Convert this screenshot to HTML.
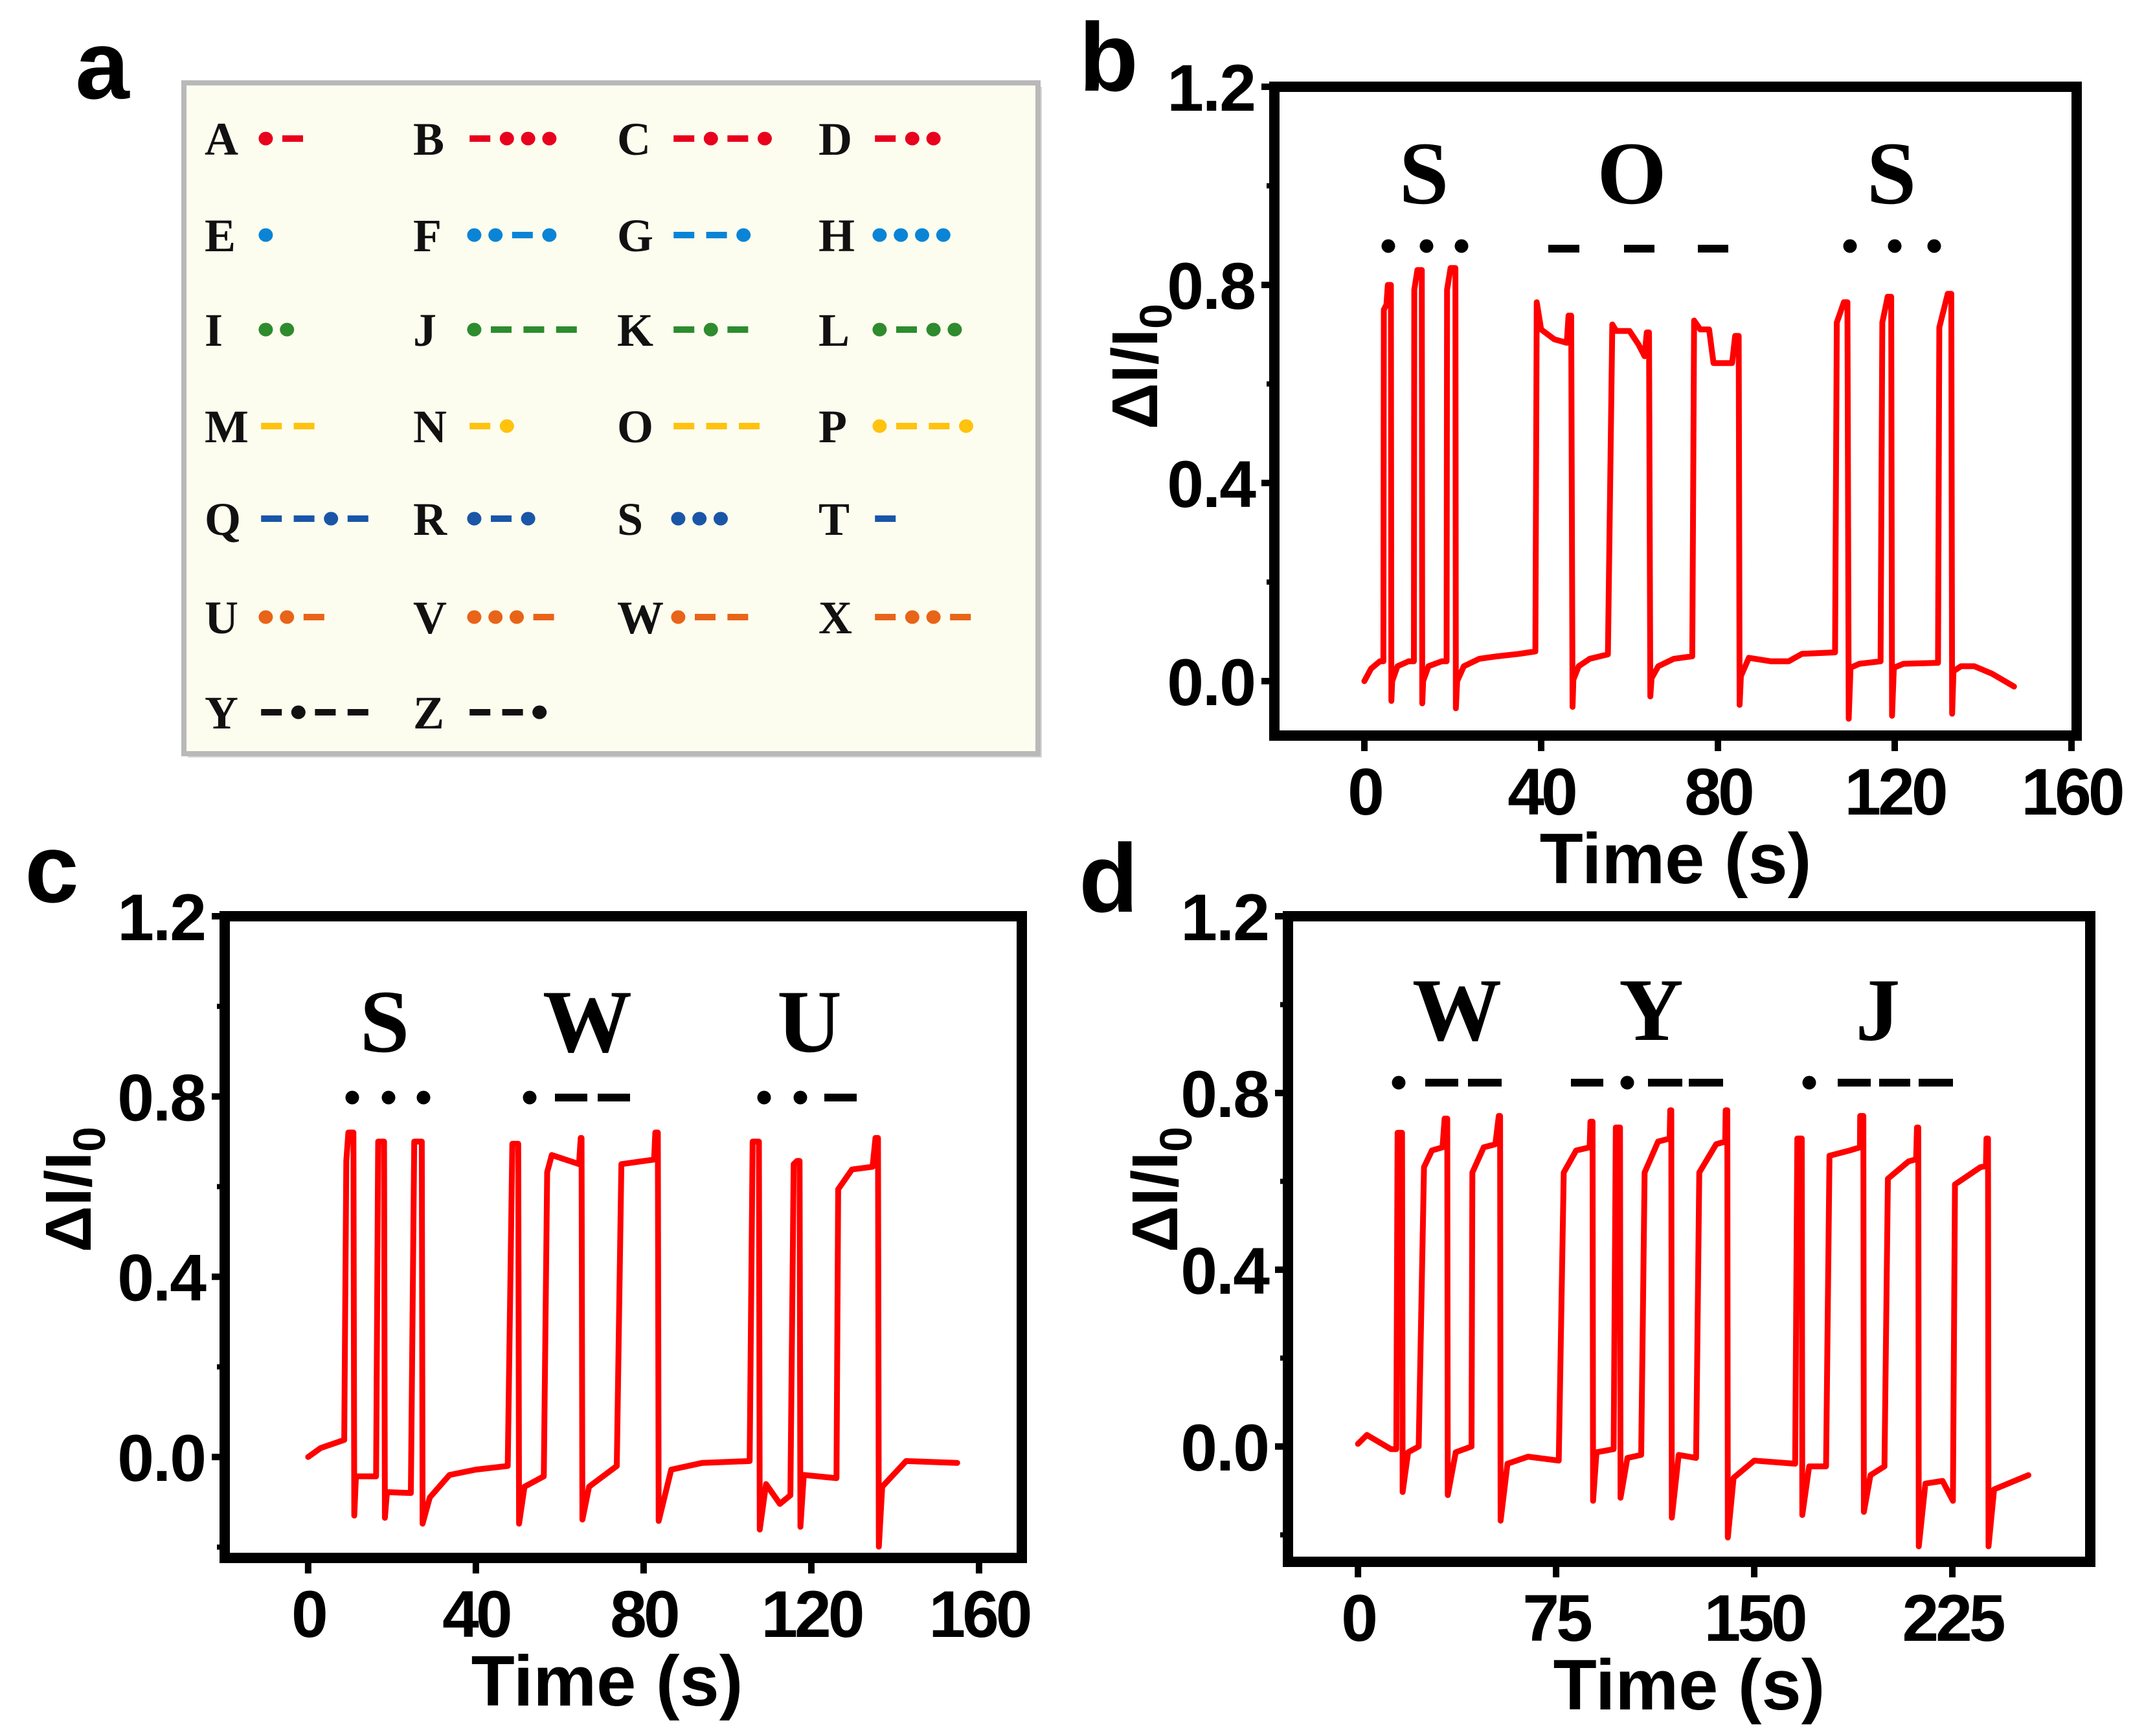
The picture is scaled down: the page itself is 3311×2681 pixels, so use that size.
<!DOCTYPE html>
<html><head><meta charset="utf-8"><style>
html,body{margin:0;padding:0;background:#fff;}
svg{display:block;}
</style></head><body>
<svg id="fig" width="3311" height="2681" viewBox="0 0 3311 2681" xmlns="http://www.w3.org/2000/svg">
<rect x="0" y="0" width="3311" height="2681" fill="#fff"/>
<g id="panelA"></g>
<g id="panelB"></g>
<g id="panelC"></g>
<g id="panelD"></g>
<g id="labels"></g>
</svg>
<script>
// ---------- Panel a data ----------
const morseLetters = ["A","B","C","D","E","F","G","H","I","J","K","L","M","N","O","P","Q","R","S","T","U","V","W","X","Y","Z"];
const morseCodes = [".-","-...","-.-.","-..",".","..-.","--.","....","..",".---","-.-",".-..","--","-.","---",".--.","--.-",".-.","...","-","..-","...-",".--","-..-","-.--","--."];
const rowColors = ["#e8001c","#0a84d6","#2e8b2e","#ffc20e","#1a56a8","#e86418","#111111"];

// ---------- Panel b data (Time s, ΔI/I0) ----------
const timesB = [
 0,1.5,3.5,4.3,
 4.4,5.0,5.3,6.0,6.1,6.3,7.5,10,11.2,
 11.3,12,13,13.1,13.3,14.5,17.5,18.6,
 18.7,19.5,20.6,20.7,21,22.5,26,30,35,38.7,
 39,40,43,45.8,46.2,46.8,47.1,47.3,48.5,51,55.1,
 56.1,57,60,62,63.4,63.9,64.4,64.7,65,66.5,70,74.2,
 74.6,76,78,79,83.2,83.9,84.7,84.9,85.2,87,92,96,99,106.5,
 106.9,108.5,109.3,109.6,110,112,116.8,
 117.2,118.4,119.2,119.4,119.8,122,129.8,
 130.1,132,132.8,133,133.3,135,138,142,147];
const valuesB = [
 0,0.025,0.04,0.04,
 0.75,0.76,0.80,0.80,-0.04,0.0,0.03,0.04,0.04,
 0.79,0.83,0.83,-0.045,0.0,0.03,0.04,0.04,
 0.79,0.834,0.834,-0.055,0.0,0.03,0.045,0.05,0.055,0.06,
 0.765,0.71,0.69,0.683,0.738,0.738,-0.052,0.003,0.03,0.045,0.054,
 0.72,0.707,0.707,0.68,0.656,0.704,0.704,-0.031,0.006,0.03,0.045,0.05,
 0.728,0.71,0.71,0.642,0.642,0.697,0.697,-0.048,0.01,0.047,0.04,0.04,0.055,0.058,
 0.724,0.765,0.765,-0.076,0.027,0.035,0.04,
 0.724,0.776,0.776,-0.07,0.027,0.035,0.037,
 0.714,0.782,0.782,-0.066,0.02,0.03,0.03,0.015,-0.011];

// ---------- Panel c data ----------
const timesC = [
 0,3,8.6,
 9.1,9.6,10.8,11,11.4,16.2,
 16.7,18.1,18.3,18.8,24.5,
 25.3,27.1,27.3,29,33.7,40,47.6,
 48.7,50.1,50.3,51.6,56.2,
 57,58.1,64.6,65,65.2,65.4,67,73.6,
 74.7,82.5,82.8,83.4,83.6,86.6,94,105.3,
 106,107.5,107.7,109.2,112.5,115,
 115.8,116.6,117.2,117.4,118.2,126,
 126.4,129.7,134.6,135.3,135.9,136.1,136.9,142.6,154.8];
const valuesC = [
 0,0.02,0.038,
 0.657,0.72,0.72,-0.13,-0.043,-0.043,
 0.7,0.7,-0.135,-0.078,-0.08,
 0.7,0.7,-0.148,-0.09,-0.04,-0.028,-0.02,
 0.695,0.695,-0.148,-0.066,-0.043,
 0.632,0.67,0.65,0.708,0.708,-0.139,-0.066,-0.02,
 0.65,0.66,0.72,0.72,-0.142,-0.028,-0.013,-0.009,
 0.7,0.7,-0.161,-0.06,-0.104,-0.085,
 0.65,0.657,0.657,-0.155,-0.04,-0.047,
 0.594,0.638,0.644,0.708,0.708,-0.199,-0.066,-0.009,-0.013];

// ---------- Panel d data ----------
const timesD = [
 0,3.4,12.5,14.5,
 15,16.7,16.9,19,23,
 25,28,32,32.8,33.8,34,37,43,
 43.3,47.6,52,53.3,53.8,54,56.6,64.4,76,
 77.9,82.6,87.7,88,88.8,89,90.3,96.8,
 97.6,99.2,99.4,102,107.2,
 108.5,113.6,118,118.2,118.6,118.8,121.4,128,
 129.2,135.6,139,139.2,139.8,140,142.2,150,165.5,
 166.3,168,168.2,170.8,177.2,
 178.5,186.2,190,190.1,191.3,191.5,194,199.3,
 200.6,208.4,211.3,211.6,212.1,212.3,214.8,221.3,225.2,
 226,235.6,237.7,237.9,238.5,238.7,240.8,253.8];
const valuesD = [
 0.006,0.026,-0.006,-0.006,
 0.71,0.71,-0.103,-0.013,0,
 0.632,0.67,0.677,0.742,0.742,-0.11,-0.013,0,
 0.62,0.677,0.684,0.748,0.748,-0.168,-0.039,-0.023,-0.032,
 0.62,0.67,0.677,0.735,0.735,-0.123,-0.013,-0.006,
 0.722,0.722,-0.116,-0.026,-0.019,
 0.62,0.69,0.697,0.761,0.761,-0.161,-0.019,-0.026,
 0.62,0.684,0.69,0.761,0.761,-0.206,-0.071,-0.032,-0.039,
 0.697,0.697,-0.155,-0.045,-0.045,
 0.658,0.67,0.677,0.748,0.748,-0.148,-0.065,-0.045,
 0.606,0.645,0.65,0.722,0.722,-0.226,-0.084,-0.078,-0.123,
 0.593,0.632,0.635,0.697,0.697,-0.226,-0.097,-0.065];

const xTicksBC = [0,40,80,120,160];
const xTicksD = [0,75,150,225];
const yTicks = [0,0.4,0.8,1.2];
const yTickLabels = ["0.0","0.4","0.8","1.2"];
const yMinorTicks = [-0.2,0.2,0.6,1.0];

const NS = "http://www.w3.org/2000/svg";
function mk(tag, attrs, parent){
  const e = document.createElementNS(NS, tag);
  for (const k in attrs) e.setAttribute(k, attrs[k]);
  if (parent) parent.appendChild(e);
  return e;
}

// ---------- Panel a ----------
(function(){
  const g = document.getElementById('panelA');
  mk('rect',{x:290,y:134,width:1319,height:1036,fill:'#d8d8d8'},g);
  const box = mk('rect',{x:284,y:128,width:1319,height:1036,fill:'#fcfdee',stroke:'#b9b9b9','stroke-width':8},g);
  
  
  const colX = [316,638,953,1264];
  const rowY = [214,363,509,658,801,953,1100];
  morseLetters.forEach((L,i)=>{
    const r = Math.floor(i/4), c = i%4;
    const x = colX[c], y = rowY[r];
    const t = mk('text',{x:x,y:y+25,'font-family':'"Liberation Serif", serif','font-weight':'bold','font-size':72,fill:'#111'},g);
    t.textContent = L;
    
    
    let cx = x + 78;
    const col = rowColors[r];
    for (const ch of morseCodes[i]) {
      if (ch === '.') {
        cx += 5.4;
        const d = mk('ellipse',{cx:cx+11,cy:y,rx:11,ry:10.5,fill:col},g);
        
        
        cx += 22 + 5.4;
      } else {
        cx += 9.2;
        const d = mk('rect',{x:cx,y:y-5,width:32,height:10,fill:col},g);
        
        
        cx += 32 + 9.2;
      }
    }
  });
})();

// ---------- chart builder ----------
function buildChart(gid, cfg, times, values, xTicks){
  const g = document.getElementById(gid);
  const sx = t => cfg.x0 + (t - cfg.xmin)/(cfg.xmax - cfg.xmin)*(cfg.x1 - cfg.x0);
  const sy = v => cfg.y1 - (v - cfg.ymin)/(cfg.ymax - cfg.ymin)*(cfg.y1 - cfg.y0);
  let d = '';
  for (let i=0;i<times.length;i++) d += (i?'L':'M') + sx(times[i]).toFixed(1) + ' ' + sy(values[i]).toFixed(1) + ' ';
  const p = mk('path',{d:d,fill:'none',stroke:'#ff0000','stroke-width':9,'stroke-linejoin':'round','stroke-linecap':'round'},g);
  
  
  const fr = mk('rect',{x:cfg.x0,y:cfg.y0,width:cfg.x1-cfg.x0,height:cfg.y1-cfg.y0,fill:'none',stroke:'#000','stroke-width':16},g);
  
  
  xTicks.forEach(t=>{
    const x = sx(t);
    const tk = mk('line',{x1:x,y1:cfg.y1,x2:x,y2:cfg.y1+24,stroke:'#000','stroke-width':10},g);
    
    
    const lb = mk('text',{x:x,y:cfg.y1+122,'text-anchor':'middle','font-family':'"Liberation Sans", sans-serif','font-weight':'bold','font-size':102,'letter-spacing':-5,fill:'#000'},g);
    lb.textContent = String(t);
    
    
  });
  yTicks.forEach((v,i)=>{
    const y = sy(v);
    const tk = mk('line',{x1:cfg.x0-20,y1:y,x2:cfg.x0,y2:y,stroke:'#000','stroke-width':10},g);
    
    
    const lb = mk('text',{x:cfg.x0-30,y:y+37,'text-anchor':'end','font-family':'"Liberation Sans", sans-serif','font-weight':'bold','font-size':102,'letter-spacing':-2,fill:'#000'},g);
    lb.textContent = yTickLabels[i];
    
    
  });
  yMinorTicks.forEach(v=>{
    if (v < cfg.ymin) return;
    const y = sy(v);
    const tk = mk('line',{x1:cfg.x0-12,y1:y,x2:cfg.x0,y2:y,stroke:'#000','stroke-width':8},g);
    
    
  });
  const xt = mk('text',{x:(cfg.x0+cfg.x1)/2 + cfg.xtOff,y:cfg.y1+228,'text-anchor':'middle','font-family':'"Liberation Sans", sans-serif','font-weight':'bold','font-size':110,fill:'#000'},g);
  xt.textContent = 'Time (s)';
  
  
  const yt = mk('text',{x:0,y:0,'text-anchor':'middle','font-family':'"Liberation Sans", sans-serif','font-weight':'bold','font-size':100,fill:'#000',transform:'translate('+(cfg.ytx+34)+','+cfg.yty+') rotate(-90)'},g);
  yt.innerHTML = 'ΔI/I<tspan font-size="70" dy="22">0</tspan>';
  
  
  cfg.letters.forEach(l=>{
    const t = mk('text',{x:l[1],y:l[2]+46,'text-anchor':'middle','font-family':'"Liberation Serif", serif','font-weight':'bold','font-size':138,fill:'#000'},g);
    t.textContent = l[0];
    
    
  });
  cfg.dots.forEach(x=>{
    const c = mk('circle',{cx:x,cy:cfg.my,r:10.5,fill:'#000'},g);
    
    
  });
  cfg.dashes.forEach(s=>{
    const r = mk('rect',{x:s[0],y:cfg.my-6+cfg.dashDy,width:s[1]-s[0],height:12,fill:'#000'},g);
    
    
  });
}

buildChart('panelB',{x0:1968,x1:3207,y0:134,y1:1136,xmin:-20.37,xmax:161.17,ymin:-0.11,ymax:1.2,xtOff:0,ytx:1753,yty:566,
  letters:[['S',2199,268],['O',2520,268],['S',2921,268]], my:380, dashDy:4,
  dots:[2144,2203,2257,2857,2926,2987], dashes:[[2391,2439],[2508,2555],[2622,2669]]},
  timesB, valuesB, xTicksBC);
buildChart('panelC',{x0:347,x1:1578,y0:1415,y1:2406,xmin:-19.9,xmax:170.2,ymin:-0.224,ymax:1.2,xtOff:-25,ytx:106,yty:1837,
  letters:[['S',594,1578],['W',907,1578],['U',1250,1578]], my:1695, dashDy:0,
  dots:[544,600,654,818,1180,1236], dashes:[[857,907],[923,973],[1273,1323]]},
  timesC, valuesC, xTicksBC);
buildChart('panelD',{x0:1989,x1:3228,y0:1415,y1:2412,xmin:-26.5,xmax:277.2,ymin:-0.261,ymax:1.2,xtOff:0,ytx:1784,yty:1837,
  letters:[['W',2250,1560],['Y',2550,1560],['J',2900,1560]], my:1672, dashDy:0,
  dots:[2160,2513,2794], dashes:[[2201,2252],[2267,2319],[2426,2476],[2545,2598],[2608,2661],[2838,2889],[2902,2950],[2963,3016]]},
  timesD, valuesD, xTicksD);

(function(){
  const g = document.getElementById('labels');
  const L = [['a',158,152],['b',1712,140],['c',80,1393],['d',1712,1408]];
  L.forEach(l=>{
    const t = mk('text',{x:l[1],y:l[2],'text-anchor':'middle','font-family':'"Liberation Sans", sans-serif','font-weight':'bold','font-size':150,fill:'#000'},g);
    t.textContent = l[0];
    
    
  });
})();
</script>
</body></html>
